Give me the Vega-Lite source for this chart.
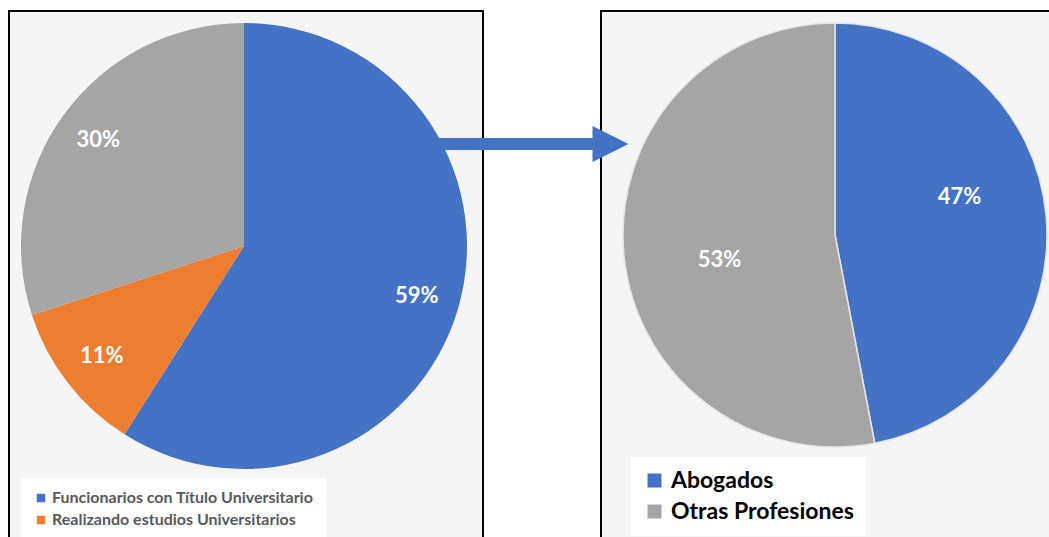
{
  "$schema": "https://vega.github.io/schema/vega-lite/v6.json",
  "padding": {"left": 8, "top": 10, "right": 0, "bottom": 0},
  "spacing": 118,
  "bounds": "flush",
  "background": "white",
  "config": {
    "view": {"stroke": "#000000", "strokeWidth": 2, "fill": "#f5f5f5"},
    "font": "Lato"
  },
  "resolve": {
    "scale": {"color": "independent", "theta": "independent"},
    "legend": {"color": "independent"}
  },
  "hconcat": [
    {
      "width": 474,
      "height": 540,
      "data": {
        "values": [
          {"cat": "Funcionarios con Título Universitario", "pct": 0.59, "idx": 1},
          {"cat": "Realizando estudios Universitarios", "pct": 0.11, "idx": 2},
          {"cat": "Funcionarios sin Título Universitario", "pct": 0.30, "idx": 3}
        ]
      },
      "layer": [
        {
          "mark": {"type": "arc", "radius": 223},
          "encoding": {
            "theta": {"field": "pct", "type": "quantitative", "stack": true},
            "order": {"field": "idx", "type": "quantitative"},
            "x": {"value": 235},
            "y": {"value": 235},
            "color": {
              "field": "cat",
              "type": "nominal",
              "scale": {
                "domain": ["Funcionarios con Título Universitario", "Realizando estudios Universitarios", "Funcionarios sin Título Universitario"],
                "range": ["#4472C4", "#ED7D31", "#A5A5A5"]
              },
              "legend": {
                "orient": "none",
                "legendX": 12,
                "legendY": 467,
                "title": null,
                "fillColor": "white",
                "padding": 12,
                "symbolType": "square",
                "symbolSize": 72,
                "symbolStrokeWidth": 0,
                "labelFontSize": 16,
                "labelFont": "Lato",
                "labelFontWeight": "bold",
                "labelColor": "#595959",
                "labelLimit": 400,
                "rowPadding": 6,
                "labelOffset": 3,
                "values": ["Funcionarios con Título Universitario", "Realizando estudios Universitarios"]
              }
            }
          }
        },
        {
          "mark": {"type": "text", "radius": 180, "fontSize": 22, "fontWeight": "bold", "fill": "white", "font": "Lato"},
          "encoding": {
            "theta": {"field": "pct", "type": "quantitative", "stack": true},
            "order": {"field": "idx", "type": "quantitative"},
            "x": {"value": 235},
            "y": {"value": 235},
            "text": {"field": "pct", "type": "quantitative", "format": ".0%"}
          }
        }
      ]
    },
    {
      "width": 460,
      "height": 540,
      "layer": [
        {
          "data": {
            "values": [
              {"cat": "Abogados", "pct": 0.47, "idx": 1},
              {"cat": "Otras Profesiones", "pct": 0.53, "idx": 2}
            ]
          },
          "layer": [
            {
              "mark": {"type": "arc", "radius": 212, "stroke": "#e6e6e6", "strokeWidth": 1.5},
              "encoding": {
                "theta": {"field": "pct", "type": "quantitative", "stack": true},
                "order": {"field": "idx", "type": "quantitative"},
                "x": {"value": 234},
                "y": {"value": 224},
                "color": {
                  "field": "cat",
                  "type": "nominal",
                  "scale": {"domain": ["Abogados", "Otras Profesiones"], "range": ["#4472C4", "#A5A5A5"]},
                  "legend": {
                    "orient": "none",
                    "legendX": 30,
                    "legendY": 446,
                    "title": null,
                    "fillColor": "white",
                    "padding": 12,
                    "symbolType": "square",
                    "symbolSize": 196,
                    "symbolStrokeWidth": 0,
                    "labelFontSize": 23,
                    "labelFont": "Lato",
                    "labelFontWeight": "bold",
                    "labelColor": "#000000",
                    "labelLimit": 400,
                    "rowPadding": 7,
                    "labelOffset": 5
                  }
                }
              }
            },
            {
              "mark": {"type": "text", "radius": 125, "dy": -26, "fontSize": 22, "fontWeight": "bold", "fill": "white", "font": "Lato"},
              "encoding": {
                "theta": {"field": "pct", "type": "quantitative", "stack": true},
                "order": {"field": "idx", "type": "quantitative"},
                "x": {"value": 234},
                "y": {"value": 224},
                "text": {"condition": {"test": "datum.cat === 'Abogados'", "field": "pct", "type": "quantitative", "format": ".0%"}, "value": ""}
              }
            },
            {
              "mark": {"type": "text", "radius": 118, "dy": 14, "dx": 2, "fontSize": 22, "fontWeight": "bold", "fill": "white", "font": "Lato"},
              "encoding": {
                "theta": {"field": "pct", "type": "quantitative", "stack": true},
                "order": {"field": "idx", "type": "quantitative"},
                "x": {"value": 234},
                "y": {"value": 224},
                "text": {"condition": {"test": "datum.cat === 'Otras Profesiones'", "field": "pct", "type": "quantitative", "format": ".0%"}, "value": ""}
              }
            }
          ]
        },
        {
          "data": {"values": [{"shape": "arrow"}]},
          "mark": {"type": "rect", "fill": "#4472C4"},
          "encoding": {
            "x": {"value": -165},
            "x2": {"value": -6},
            "y": {"value": 127},
            "y2": {"value": 139}
          }
        },
        {
          "data": {"values": [{"shape": "arrow"}]},
          "mark": {"type": "point", "shape": "M-1,-1L1,0L-1,1Z", "filled": true, "fill": "#4472C4", "opacity": 1, "size": 1296, "strokeWidth": 0},
          "encoding": {
            "x": {"value": 9.5},
            "y": {"value": 133}
          }
        }
      ]
    }
  ]
}
